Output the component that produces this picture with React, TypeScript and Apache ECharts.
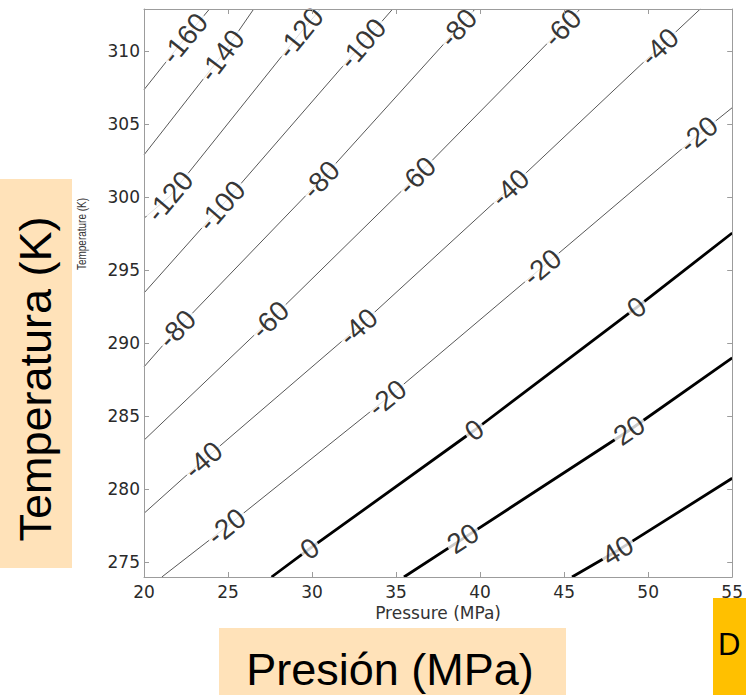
import React, { useEffect, useRef } from 'react';
import * as echarts from 'echarts';

// Axis ticks
const xTicks = [20, 25, 30, 35, 40, 45, 50, 55];
const yTicks = [275, 280, 285, 290, 295, 300, 305, 310];

// Contour levels
const contourLevels = [-160, -140, -120, -100, -80, -60, -40, -20, 0, 20, 40];

// Contour paths: [Pressure (MPa), Temperature (K)]
const lineM160 = [[20, 307.37], [22.41, 310.87], [23.9, 312.9]];
const lineM140 = [[20, 302.91], [24.62, 309.71], [26.53, 312.9]];
const lineM120 = [[20, 298.57], [21.53, 300.07], [29.3, 311.25], [30.5, 312.9]];
const lineM100 = [[20, 293.45], [24.62, 299.42], [33.0, 310.53], [34.8, 312.9]];
const lineM80 = [[20, 288.39], [21.97, 290.98], [30.53, 301.2], [38.7, 311.6], [39.7, 312.9]];
const lineM60 = [[20, 283.37], [27.5, 291.6], [36.24, 301.47], [44.9, 311.6], [45.95, 312.9]];
const lineM40 = [[20, 278.36], [23.53, 282.0], [32.76, 291.12], [41.79, 300.65], [50.68, 310.29], [53.1, 312.9]];
const lineM20 = [[21.06, 274], [24.91, 277.44], [34.47, 286.25], [43.68, 295.2], [53.0, 304.29], [55, 306.14]];
const line0 = [[27.59, 274], [29.86, 275.94], [39.66, 284.05], [49.32, 292.46], [55, 297.56]];
const lineP20 = [[35.47, 274], [38.98, 276.63], [48.88, 284.05], [55, 289.0]];
const lineP40 = [[45.47, 274], [48.19, 275.82], [55, 280.76]];

const contourLines = [lineM160, lineM140, lineM120, lineM100, lineM80, lineM60, lineM40, lineM20, line0, lineP20, lineP40];

// Which vertices of each path carry an inline label
const labelVertices = [[1], [1], [1, 2], [1, 2], [1, 2, 3], [1, 2, 3], [1, 2, 3, 4], [1, 2, 3, 4], [1, 2, 3], [1, 2], [1]];

export default function App() {
  const ref = useRef<HTMLDivElement>(null);

  useEffect(() => {
    if (!ref.current) return;
    const chart = echarts.init(ref.current, null, { renderer: 'svg' });
    const frame = { color: '#9c9c9c', width: 1 };
    const tickLabel = { fontFamily: 'DejaVu Sans', fontSize: 17, color: '#2a2a2a' };
    const peach = '#FFE2B9';

    const lineSeries = contourLines.map((pts, i) => ({
      type: 'line',
      name: String(contourLevels[i]),
      data: pts,
      xAxisIndex: 0,
      yAxisIndex: 0,
      showSymbol: false,
      symbol: 'none',
      smooth: false,
      silent: true,
      z: 2,
      lineStyle: {
        color: contourLevels[i] >= 0 ? '#000' : '#444',
        width: contourLevels[i] >= 0 ? 2.8 : 0.9,
      },
    }));

    const base: any = {
      animation: false,
      backgroundColor: '#fff',
      grid: { left: 144, top: 9, right: 6, bottom: 118 },
      xAxis: [
        {
          type: 'value', min: 20, max: 55, interval: 5, position: 'bottom', z: 10,
          axisLine: { show: true, lineStyle: frame },
          axisTick: { show: true, inside: true, length: 5, lineStyle: frame },
          axisLabel: { ...tickLabel, margin: 6, customValues: xTicks },
          splitLine: { show: false },
          name: 'Pressure (MPa)', nameLocation: 'middle', nameGap: 25,
          nameTextStyle: { fontFamily: 'DejaVu Sans', fontSize: 17, color: '#333' },
        },
        {
          type: 'value', min: 20, max: 55, interval: 5, position: 'top', z: 10,
          axisLine: { show: true, lineStyle: frame },
          axisTick: { show: true, inside: true, length: 5, lineStyle: frame },
          axisLabel: { show: false },
          splitLine: { show: false },
        },
      ],
      yAxis: [
        {
          type: 'value', min: 274, max: 312.9, splitNumber: 8, position: 'left', z: 10,
          axisLine: { show: true, lineStyle: frame },
          axisTick: { show: true, inside: true, length: 5, lineStyle: frame, customValues: yTicks },
          axisLabel: { ...tickLabel, margin: 4, customValues: yTicks },
          splitLine: { show: false },
        },
        {
          type: 'value', min: 274, max: 312.9, splitNumber: 8, position: 'right', z: 10,
          axisLine: { show: true, lineStyle: frame },
          axisTick: { show: true, inside: true, length: 5, lineStyle: frame, customValues: yTicks },
          axisLabel: { show: false },
          splitLine: { show: false },
        },
      ],
      graphic: [
        {
          type: 'text', z: 60, x: 81, y: 234, rotation: Math.PI / 2, scaleY: 1.35,
          style: { text: 'Temperature (K)', fontFamily: 'Liberation Sans', fontSize: 10, fill: '#333', align: 'center', verticalAlign: 'middle' },
        },
        { type: 'rect', z: 100, shape: { x: 0, y: 179, width: 72, height: 389 }, style: { fill: peach } },
        {
          type: 'text', z: 101, x: 35, y: 379, rotation: Math.PI / 2,
          style: { text: 'Temperatura (K)', fontFamily: 'Liberation Sans', fontSize: 45, fill: '#000', align: 'center', verticalAlign: 'middle' },
        },
        { type: 'rect', z: 100, shape: { x: 219, y: 628, width: 347, height: 67 }, style: { fill: peach } },
        {
          type: 'text', z: 101, x: 390, y: 669,
          style: { text: 'Presión (MPa)', fontFamily: 'Liberation Sans', fontSize: 45, fill: '#000', align: 'center', verticalAlign: 'middle' },
        },
        { type: 'rect', z: 100, shape: { x: 713, y: 598, width: 33, height: 97 }, style: { fill: '#FFC000' } },
        {
          type: 'text', z: 101, x: 718, y: 644,
          style: { text: 'D', fontFamily: 'Liberation Sans', fontSize: 31, fill: '#000', align: 'left', verticalAlign: 'middle' },
        },
      ],
      series: lineSeries,
    };

    chart.setOption(base);

    const labelData: any[] = [];
    contourLines.forEach((pts, ci) => {
      labelVertices[ci].forEach((vi) => {
        const a = chart.convertToPixel({ xAxisIndex: 0, yAxisIndex: 0 }, pts[vi - 1]) as number[];
        const b = chart.convertToPixel({ xAxisIndex: 0, yAxisIndex: 0 }, pts[vi + 1]) as number[];
        const ang = (Math.atan2(a[1] - b[1], b[0] - a[0]) * 180) / Math.PI;
        labelData.push({ value: pts[vi], name: String(contourLevels[ci]), label: { rotate: ang } });
      });
    });

    chart.setOption({
      series: [
        ...lineSeries,
        {
          type: 'scatter',
          xAxisIndex: 0,
          yAxisIndex: 0,
          symbolSize: 0,
          silent: true,
          z: 5,
          data: labelData,
          label: {
            show: true,
            position: 'inside',
            formatter: '{b}',
            fontFamily: 'Liberation Sans',
            fontSize: 28,
            color: '#000',
            backgroundColor: '#fff',
            padding: [0, 2],
            lineHeight: 24,
          },
        },
      ],
    });

    return () => chart.dispose();
  }, []);

  return (
    <div
      ref={ref}
      style={{ position: 'absolute', left: 0, top: 0, width: 746, height: 695, background: '#fff' }}
    />
  );
}
